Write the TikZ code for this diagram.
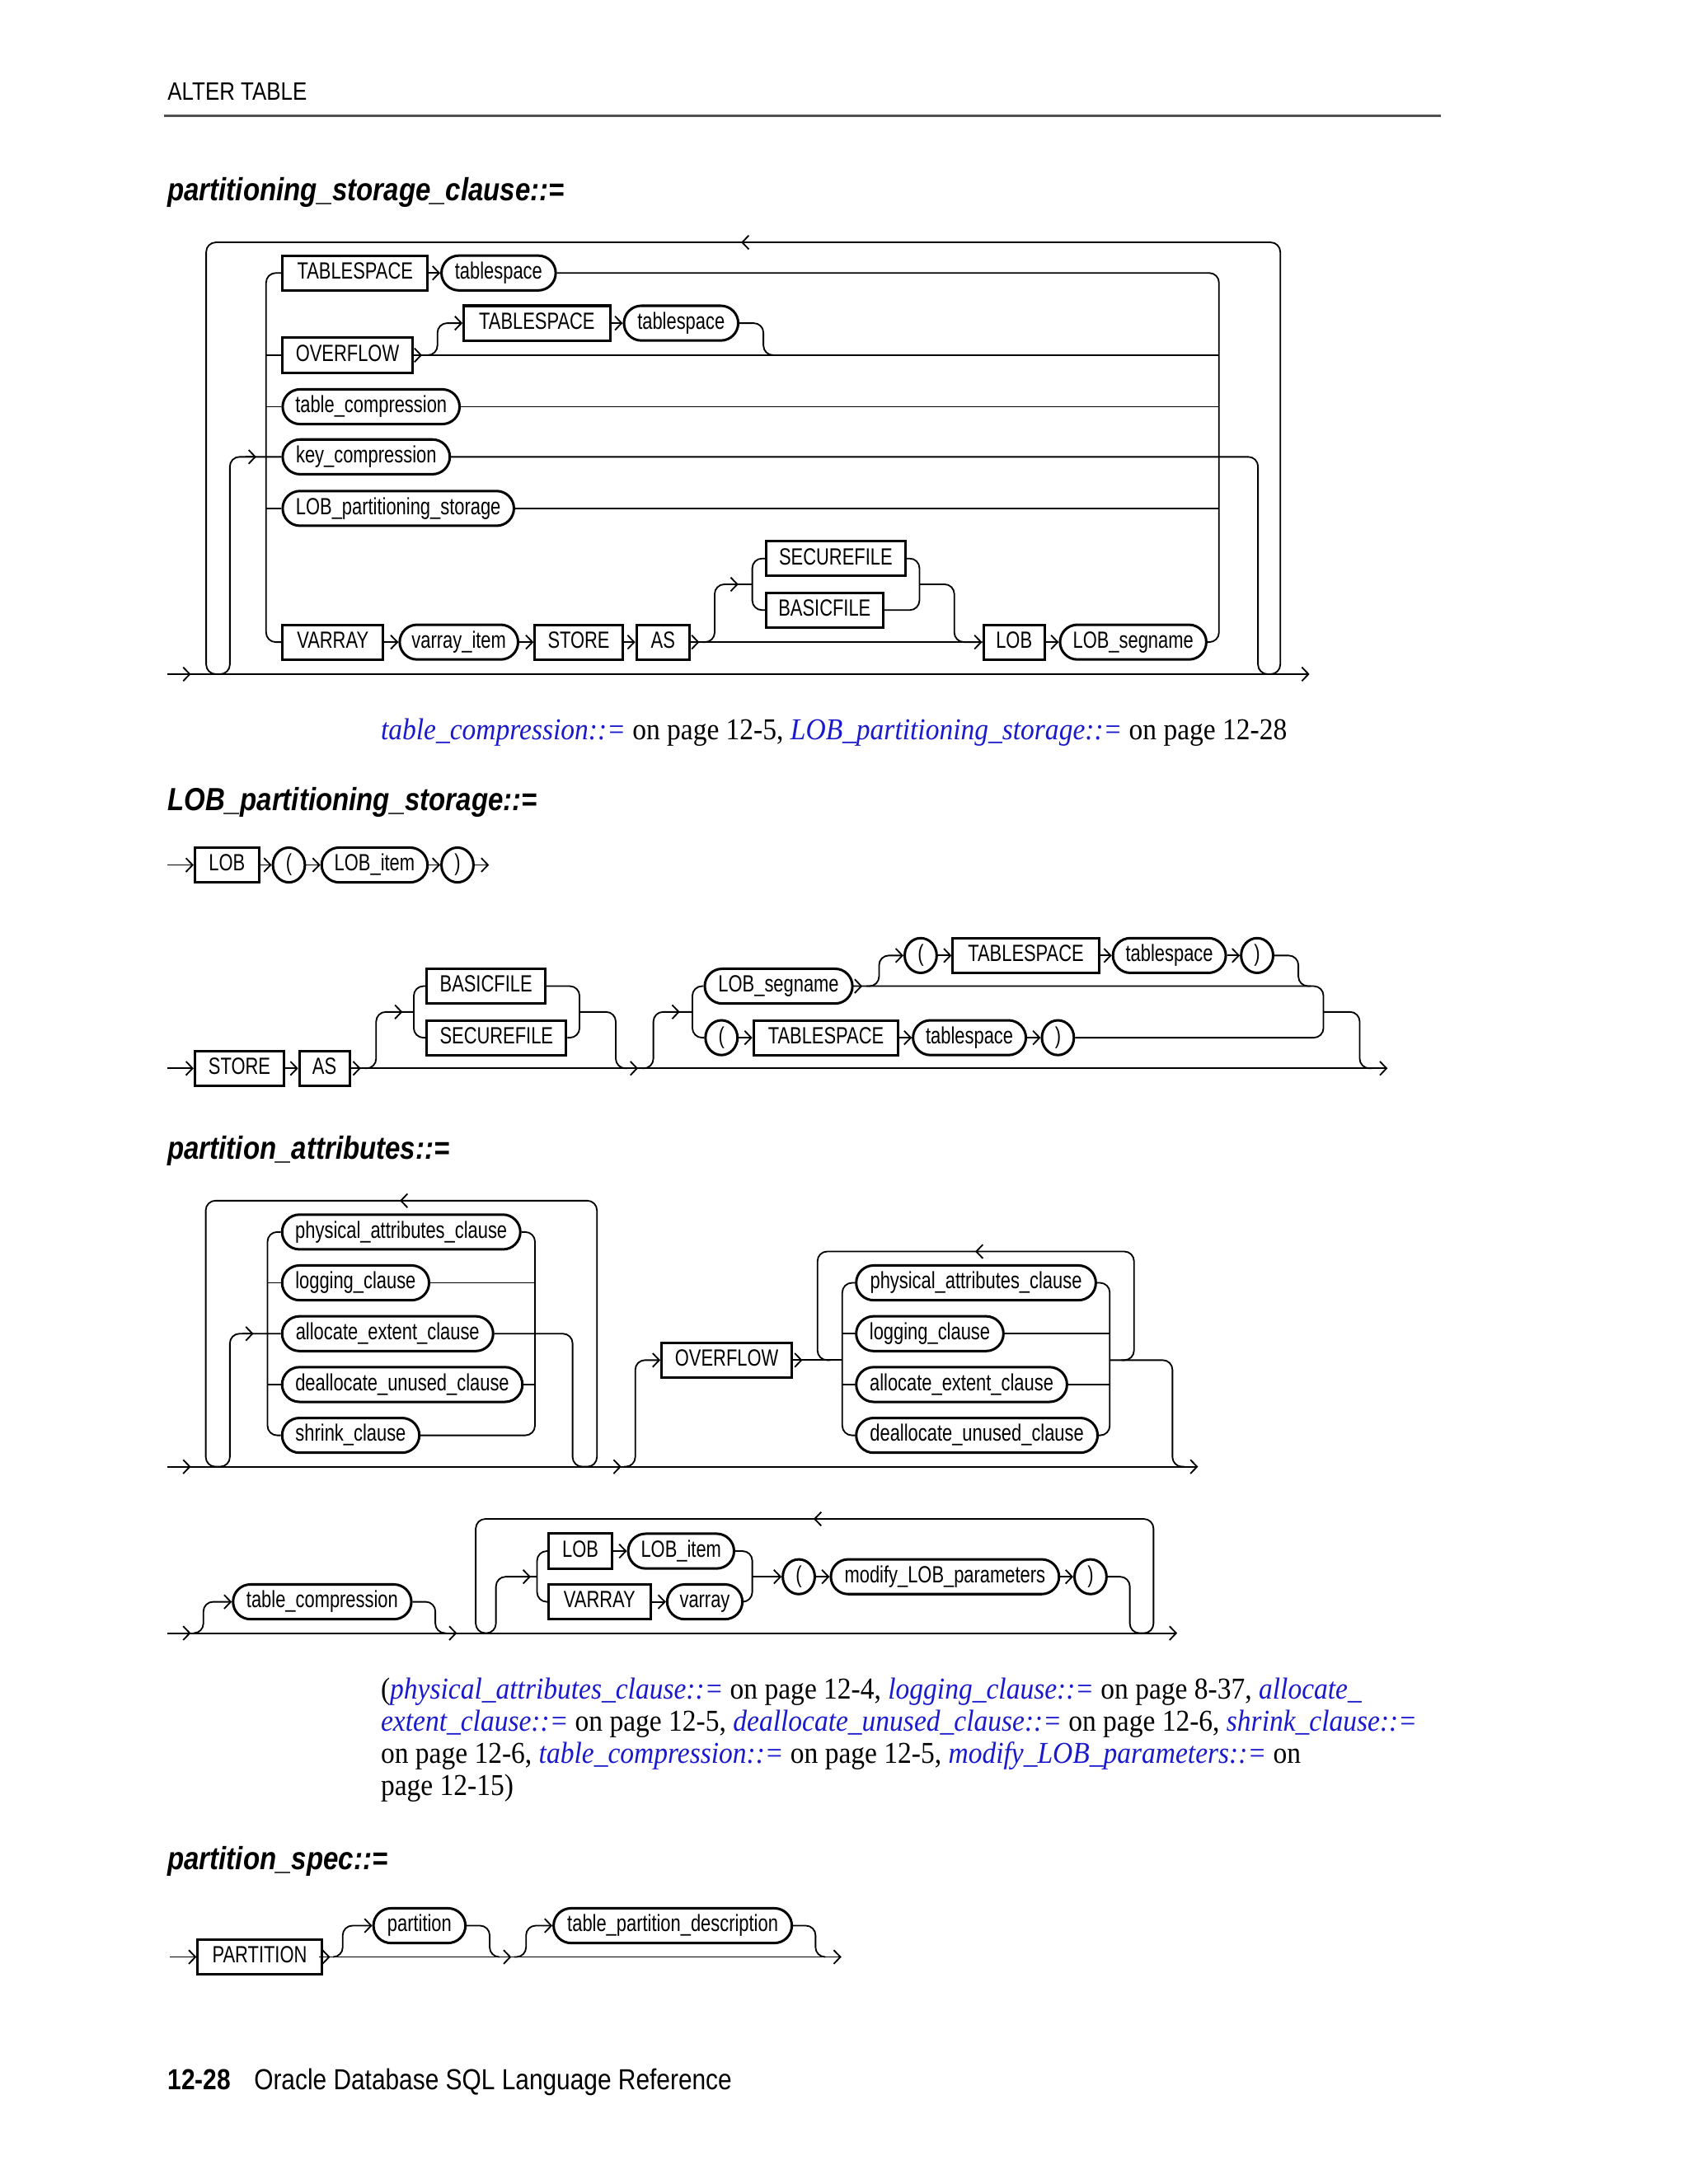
\documentclass[tikz,border=0pt]{standalone}
\usepackage{fontspec}
\usepackage{xcolor}
\usetikzlibrary{arrows.meta,shapes.geometric}
\newfontfamily\rrfont[FakeStretch=0.77]{Liberation Sans}
\newfontfamily\hdfont[FakeStretch=0.85]{Liberation Sans}
\newfontfamily\reffont[FakeStretch=0.91]{Liberation Serif}
\definecolor{refblue}{HTML}{1A1ACC}
\definecolor{rulegray}{HTML}{505050}
\newcommand{\chev}[2]{\draw[rail,arr] ([xshift=-4pt]#1,#2) -- (#1,#2);}
\newcommand{\chevl}[2]{\draw[rail,arr] ([xshift=4pt]#1,#2) -- (#1,#2);}
\newcommand{\xref}[1]{\textcolor{refblue}{\itshape #1}}

\begin{document}
\begin{tikzpicture}[x=0.5049pt,y=-0.5049pt,
  rail/.style={line width=0.55pt, rounded corners=3.5pt},
  arr/.style={-{Straight Barb[length=2.4pt,width=5pt]}},
  kw/.style={draw, line width=0.9pt, anchor=west, minimum height=12.6pt, inner sep=1pt,
    text height=6.1pt, text depth=1.7pt, font=\rrfont\fontsize{8.5}{10}\selectfont},
  nt/.style={kw, rounded corners=6.3pt},
  paren/.style={kw, ellipse, inner sep=0pt, minimum width=11.6pt},
  boxw/.style={minimum width=#1*0.5049pt},
  ttl/.style={anchor=base west, inner sep=0pt, font=\hdfont\fontsize{11.6}{14}\selectfont\bfseries\itshape},
  reftext/.style={anchor=base west, inner sep=0pt, font=\reffont\fontsize{11}{13}\selectfont}]
\fill[white] (0,0) rectangle (1212,1568);
\useasboundingbox (0,0) rectangle (1212,1568);

% running head
\node[anchor=base west, inner sep=0pt, font=\hdfont\fontsize{9.1}{11}\selectfont] (hdr) at (120,72) {ALTER TABLE};
\draw[rulegray, line width=0.8pt] (118,83) -- (1034,83);

% partitioning_storage_clause
\node[ttl] (t1) at (120,144) {partitioning\_storage\_clause::=};
\node[kw,boxw=104] (ts1) at (202,196) {TABLESPACE};
\node[nt,boxw=82] (tsv1) at (316,196) {tablespace};
\node[kw,boxw=93] (ovf1) at (202,255) {OVERFLOW};
\node[kw,boxw=105] (ts2) at (332,232) {TABLESPACE};
\node[nt,boxw=82] (tsv2) at (447,232) {tablespace};
\node[nt,boxw=127] (tcmp1) at (202,292) {table\_compression};
\node[nt,boxw=120] (kcmp1) at (202,328) {key\_compression};
\node[nt,boxw=166] (lobps1) at (202,365) {LOB\_partitioning\_storage};
\node[kw,boxw=72] (varr1) at (202,461) {VARRAY};
\node[nt,boxw=85] (vitem1) at (286,461) {varray\_item};
\node[kw,boxw=63] (store1) at (383,461) {STORE};
\node[kw,boxw=38] (as1) at (456,461) {AS};
\node[kw,boxw=100] (sfile1) at (549,401) {SECUREFILE};
\node[kw,boxw=84] (bfile1) at (549,438) {BASICFILE};
\node[kw,boxw=44] (lob1) at (705,461) {LOB};
\node[nt,boxw=105] (lseg1) at (760,461) {LOB\_segname};
\coordinate (s1) at (120,484);
\coordinate (e1) at (940,484);
\coordinate (u1l) at (156,484);
\coordinate (u1r) at (911,484);
\coordinate (c1l) at (191,328);
\coordinate (c1r) at (875,328);
\coordinate (c2l) at (540,419.5);
\coordinate (c2r) at (660,419.5);
\draw[rail,arr] (s1) -- (e1);
\chev{137}{484}
\draw[rail] (u1r) -| (919,174) -- (148,174) |- (u1l);
\chevl{532}{174}
\draw[rail] (u1l) -| (165,328) -- (kcmp1.west);
\chev{184}{328}
\draw[rail] (ts1.west) -| (c1l) |- (varr1.west);
\foreach \n in {ovf1,tcmp1,lobps1} \draw[rail] (\n.west -| c1l) -- (\n.west);
\draw[rail] (tsv1.east) -| (c1r) |- (lseg1.east);
\foreach \n in {ovf1,tcmp1,lobps1} \draw[rail] (\n.east) -- (\n.east -| c1r);
\chev{303}{255}
\draw[rail] (kcmp1.east) -| (903,484) -- (u1r);
\draw[rail,arr] (306,255) -| (314,232) -- (ts2.west);
\draw[rail] (tsv2.east) -| (548,255) -- (556,255);
\foreach \a/\b in {ts1/tsv1,ts2/tsv2,varr1/vitem1,vitem1/store1,store1/as1,as1/lob1,lob1/lseg1}
  \draw[rail,arr] (\a.east) -- (\b.west);
\chev{502}{461}
\draw[rail] (504,461) -| (513,419.5) -- (c2l);
\chev{530}{419.5}
\draw[rail] (sfile1.west) -| (c2l) |- (bfile1.west);
\draw[rail] (sfile1.east) -| (c2r) |- (bfile1.east);
\draw[rail] (c2r) -| (685,461) -- (lob1.west);

\node[reftext] (ref1) at (273,531) {\xref{table\_compression::=} on page 12-5, \xref{LOB\_partitioning\_storage::=} on page 12-28};

% LOB_partitioning_storage
\node[ttl] (t2) at (120,582) {LOB\_partitioning\_storage::=};
\node[kw,boxw=46] (lob2) at (139,621) {LOB};
\node[paren] (lp1) at (195,621) {(};
\node[nt,boxw=76] (litem1) at (230,621) {LOB\_item};
\node[paren] (rp1) at (316,621) {)};
\coordinate (s2) at (120,621);
\coordinate (e2) at (351,621);
\foreach \a/\b in {s2/lob2.west,lob2.east/lp1.west,lp1.east/litem1.west,litem1.east/rp1.west,rp1.east/e2}
  \draw[rail,arr] (\a) -- (\b);

\node[kw,boxw=64] (store2) at (139,767) {STORE};
\node[kw,boxw=36] (as2) at (214,767) {AS};
\node[kw,boxw=85] (bfile2) at (305.5,708) {BASICFILE};
\node[kw,boxw=100] (sfile2) at (305.5,745) {SECUREFILE};
\node[nt,boxw=106] (lseg2) at (505,708) {LOB\_segname};
\node[paren] (lp2) at (648.5,686) {(};
\node[kw,boxw=105] (ts3) at (683,686) {TABLESPACE};
\node[nt,boxw=81] (tsv3) at (798,686) {tablespace};
\node[paren] (rp2) at (890,686) {)};
\node[paren] (lp3) at (505.5,745) {(};
\node[kw,boxw=104] (ts4) at (540,745) {TABLESPACE};
\node[nt,boxw=81] (tsv4) at (654.5,745) {tablespace};
\node[paren] (rp3) at (747,745) {)};
\coordinate (s3) at (120,767);
\coordinate (e3) at (996,767);
\coordinate (c3l) at (297,726.5);
\coordinate (c3r) at (416,726.5);
\coordinate (c4l) at (497,726.5);
\coordinate (c4r) at (950,726.5);
\draw[rail,arr] (s3) -- (store2.west);
\draw[rail,arr] (store2.east) -- (as2.west);
\draw[rail,arr] (as2.east) -- (e3);
\chev{259}{767}
\chev{458}{767}
\draw[rail] (262,767) -| (270,726.5) -- (c3l);
\chev{289}{726.5}
\draw[rail] (bfile2.west) -| (c3l) |- (sfile2.west);
\draw[rail] (bfile2.east) -| (c3r) |- (sfile2.east);
\draw[rail] (c3r) -| (442,767) -- (450,767);
\draw[rail] (461,767) -| (469,726.5) -- (c4l);
\chev{488}{726.5}
\draw[rail] (lseg2.west) -| (c4l) |- (lp3.west);
\draw[rail] (lseg2.east) -| (c4r) |- (rp3.east);
\draw[rail] (c4r) -| (976,767) -- (985,767);
\chev{619}{708}
\draw[rail,arr] (622,708) -| (631,686) -- (lp2.west);
\draw[rail] (rp2.east) -| (932,708) -- (941,708);
\foreach \a/\b in {lp2/ts3,ts3/tsv3,tsv3/rp2,lp3/ts4,ts4/tsv4,tsv4/rp3}
  \draw[rail,arr] (\a.east) -- (\b.west);

% partition_attributes
\node[ttl] (t3) at (120,832) {partition\_attributes::=};
\node[nt,boxw=171] (pac1) at (201.6,884.5) {physical\_attributes\_clause};
\node[nt,boxw=105.5] (lgc1) at (201.6,921) {logging\_clause};
\node[nt,boxw=151.5] (aec1) at (201.6,957.5) {allocate\_extent\_clause};
\node[nt,boxw=172.5] (duc1) at (201.6,994) {deallocate\_unused\_clause};
\node[nt,boxw=98.5] (shc1) at (201.6,1030.5) {shrink\_clause};
\node[kw,boxw=93.5] (ovf2) at (474,976.5) {OVERFLOW};
\node[nt,boxw=172] (pac2) at (613.7,921) {physical\_attributes\_clause};
\node[nt,boxw=105.7] (lgc2) at (613.7,957.5) {logging\_clause};
\node[nt,boxw=151.3] (aec2) at (613.7,994) {allocate\_extent\_clause};
\node[nt,boxw=173.3] (duc2) at (613.7,1030.5) {deallocate\_unused\_clause};
\coordinate (s4) at (120,1053);
\coordinate (e4) at (860,1053);
\coordinate (c5l) at (192,957.5);
\coordinate (c5r) at (384,957.5);
\coordinate (c6l) at (604.6,976.5);
\coordinate (c6r) at (796.6,976.5);
\draw[rail,arr] (s4) -- (e4);
\chev{137}{1053}
\draw[rail] (420,1053) -| (428.5,862) -- (147.7,862) |- (156,1053);
\chevl{287}{862}
\draw[rail] (156,1053) -| (165,957.5) -- (aec1.west);
\chev{182}{957.5}
\draw[rail] (pac1.west) -| (c5l) |- (shc1.west);
\foreach \n in {lgc1,duc1} \draw[rail] (\n.west -| c5l) -- (\n.west);
\draw[rail] (pac1.east) -| (c5r) |- (shc1.east);
\foreach \n in {lgc1,duc1} \draw[rail] (\n.east) -- (\n.east -| c5r);
\draw[rail] (aec1.east) -| (411,1053) -- (420,1053);
\chev{446}{1053}
\draw[rail,arr] (448,1053) -| (456,976.5) -- (ovf2.west);
\draw[rail] (ovf2.east) -- (c6l);
\chev{576}{976.5}
\draw[rail] (805,976.5) -| (814,898.5) -- (586.8,898.5) |- (596,976.5);
\chevl{700}{898.5}
\draw[rail] (pac2.west) -| (c6l) |- (duc2.west);
\foreach \n in {lgc2,aec2} \draw[rail] (\n.west -| c6l) -- (\n.west);
\draw[rail] (pac2.east) -| (c6r) |- (duc2.east);
\foreach \n in {lgc2,aec2} \draw[rail] (\n.east) -- (\n.east -| c6r);
\draw[rail] (c6r) -| (841.6,1053) -- (850,1053);

\node[nt,boxw=128] (tcmp2) at (166.4,1150) {table\_compression};
\node[kw,boxw=45.5] (lob3) at (393,1113.6) {LOB};
\node[nt,boxw=76] (litem2) at (450,1113.6) {LOB\_item};
\node[kw,boxw=73] (varr2) at (393,1150) {VARRAY};
\node[nt,boxw=54] (vry) at (478,1150) {varray};
\node[paren] (lp4) at (561,1132) {(};
\node[nt,boxw=163.8] (mlp) at (595.5,1132) {modify\_LOB\_parameters};
\node[paren] (rp4) at (770.4,1132) {)};
\coordinate (s5) at (120,1172.5);
\coordinate (e5) at (845,1172.5);
\coordinate (c7l) at (385.5,1132);
\coordinate (c7r) at (540,1132);
\draw[rail,arr] (s5) -- (e5);
\chev{137}{1172.5}
\draw[rail,arr] (139,1172.5) -| (146,1150) -- (tcmp2.west);
\draw[rail] (tcmp2.east) -| (312.5,1172.5) -- (320,1172.5);
\chev{328}{1172.5}
\draw[rail] (820,1172.5) -| (828,1090.5) -- (341.5,1090.5) |- (349,1172.5);
\chevl{584}{1090.5}
\draw[rail] (349,1172.5) -| (356,1132) -- (c7l);
\chev{381}{1132}
\draw[rail] (lob3.west) -| (c7l) |- (varr2.west);
\draw[rail] (litem2.east) -| (c7r) |- (vry.east);
\foreach \a/\b in {lob3/litem2,varr2/vry,lp4/mlp,mlp/rp4}
  \draw[rail,arr] (\a.east) -- (\b.west);
\draw[rail,arr] (c7r) -- (lp4.west);
\draw[rail] (rp4.east) -| (811,1172.5) -- (820,1172.5);

\node[reftext] (ref2a) at (273,1220) {(\xref{physical\_attributes\_clause::=} on page 12-4, \xref{logging\_clause::=} on page 8-37, \xref{allocate\_}};
\node[reftext] (ref2b) at (273,1243) {\xref{extent\_clause::=} on page 12-5, \xref{deallocate\_unused\_clause::=} on page 12-6, \xref{shrink\_clause::=}};
\node[reftext] (ref2c) at (273,1266) {on page 12-6, \xref{table\_compression::=} on page 12-5, \xref{modify\_LOB\_parameters::=} on};
\node[reftext] (ref2d) at (273,1289) {page 12-15)};

% partition_spec
\node[ttl] (t4) at (120,1342) {partition\_spec::=};
\node[kw,boxw=89] (part) at (141,1405) {PARTITION};
\node[nt,boxw=66] (ptn) at (267.2,1382.5) {partition};
\node[nt,boxw=171] (tpd) at (396.5,1382.5) {table\_partition\_description};
\coordinate (s6) at (122,1405);
\coordinate (e6) at (604,1405);
\draw[rail,arr] (s6) -- (part.west);
\draw[rail,arr] (part.east) -- (e6);
\chev{237}{1405}
\chev{367}{1405}
\draw[rail,arr] (239,1405) -| (246,1382.5) -- (ptn.west);
\draw[rail] (ptn.east) -| (351.5,1405) -- (358,1405);
\draw[rail,arr] (369,1405) -| (377.6,1382.5) -- (tpd.west);
\draw[rail] (tpd.east) -| (585.4,1405) -- (592,1405);

% foot
\node[anchor=base west, inner sep=0pt, font=\hdfont\fontsize{10.5}{12}\selectfont\bfseries] (pgno) at (120,1500) {12-28};
\node[anchor=base west, inner sep=0pt, font=\hdfont\fontsize{10.5}{12}\selectfont] (book) at (182,1500) {Oracle Database SQL Language Reference};
\end{tikzpicture}
\end{document}
